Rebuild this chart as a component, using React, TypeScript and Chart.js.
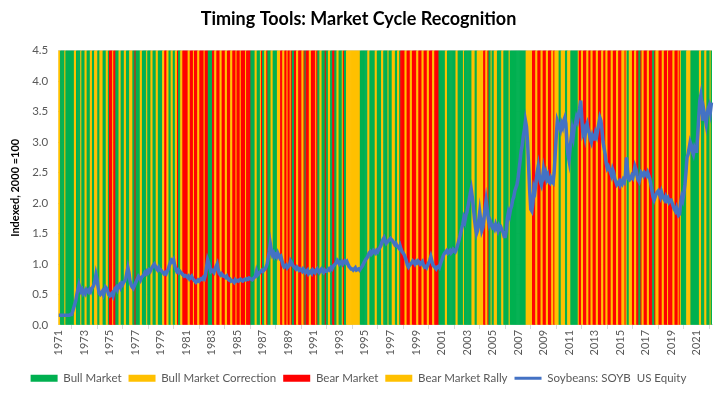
import React, { useEffect, useRef } from "react";
import { Chart, registerables } from "chart.js";

Chart.register(...registerables);

const startYear = 1971;

// Regime per month, one string per year. G = Bull Market, C = Bull Market Correction,
// R = Bear Market, Y = Bear Market Rally
const regimeByYear: string[] = [
  "CCGGGGCGGGGG", // 1971
  "GGGCCGGGGCGG", // 1972
  "GCCGGGCCGGCC", // 1973
  "CGGCCCGGGCCG", // 1974
  "RRRYRRGGGCCG", // 1975
  "GGCCGGGCCCGG", // 1976
  "RGGGGCCGGGGC", // 1977
  "GGGCCGGGCCGG", // 1978
  "GGCCRRCCGGCC", // 1979
  "GGCCRGGCCRRR", // 1980
  "RRYYRRRYRRRY", // 1981
  "YRRRRYRRRGGG", // 1982
  "GRRYYRRRYYRR", // 1983
  "RYYRRRYYRRRY", // 1984
  "RRRYRRRRYRRR", // 1985
  "RGGGGCCGGGCR", // 1986
  "GGCCRGGGCCGG", // 1987
  "GGCCCRRYYRRC", // 1988
  "RRYRGGRRYYRR", // 1989
  "RYYRGRRRYYRR", // 1990
  "RRYRGGCCGGGR", // 1991
  "GGCCGGRRGGCC", // 1992
  "GGGCRGGCCCCC", // 1993
  "CCCCCCCCGGGG", // 1994
  "GGGCCGGGGGCC", // 1995
  "GGGGCCGGGGCG", // 1996
  "GGCCCGGCCGRR", // 1997
  "RRYYRRRYYRRR", // 1998
  "RYYRRRYYRRRY", // 1999
  "YRRRYYRRRRGG", // 2000
  "GGGGCCGGGGGG", // 2001
  "GGCCGGGGGCGG", // 2002
  "GGGGGCCCGGCC", // 2003
  "CCCCRRYYRGGC", // 2004
  "GGCCCGGGGCCG", // 2005
  "GGGGCGGGGGGG", // 2006
  "GGGGGGGGCCCC", // 2007
  "CCRRRYYRRRYY", // 2008
  "RRRYYRRRYYRC", // 2009
  "CCCGGCCCCGGC", // 2010
  "CCGGGGGGGCRR", // 2011
  "YYRRRYYRRYYR", // 2012
  "RRYYRRRYYRRY", // 2013
  "YRRRYYRRRYYR", // 2014
  "RRYYYRCGGCCC", // 2015
  "RRYYRRGGRYYR", // 2016
  "RRYYRRRGGRYY", // 2017
  "YRRRYYRRRYRR", // 2018
  "RRYYRRRYRCGG", // 2019
  "GGGCCCCGGGGG", // 2020
  "GGGCCGGGCCGG", // 2021
  "GCG",          // 2022
];

// Soybeans: SOYB US Equity, indexed (2000 = 1.0), monthly
const soyByYear: number[][] = [
  [0.16, 0.16, 0.16, 0.16, 0.16, 0.16, 0.16, 0.16, 0.16, 0.16, 0.16, 0.17], // 1971
  [0.17, 0.22, 0.28, 0.34, 0.40, 0.50, 0.58, 0.66, 0.60, 0.55, 0.58, 0.52], // 1972
  [0.55, 0.52, 0.58, 0.56, 0.54, 0.58, 0.55, 0.60, 0.62, 0.66, 0.72, 0.83], // 1973
  [0.75, 0.62, 0.52, 0.50, 0.52, 0.55, 0.50, 0.56, 0.62, 0.60, 0.55, 0.50], // 1974
  [0.48, 0.50, 0.52, 0.48, 0.55, 0.60, 0.62, 0.58, 0.64, 0.66, 0.62, 0.68], // 1975
  [0.66, 0.70, 0.72, 0.76, 0.85, 0.94, 0.86, 0.72, 0.66, 0.62, 0.60, 0.64], // 1976
  [0.68, 0.72, 0.76, 0.80, 0.78, 0.74, 0.78, 0.80, 0.82, 0.86, 0.84, 0.88], // 1977
  [0.86, 0.90, 0.88, 0.92, 0.95, 0.98, 1.00, 0.96, 0.92, 0.90, 0.94, 0.90], // 1978
  [0.90, 0.88, 0.86, 0.84, 0.86, 0.84, 0.88, 0.92, 0.98, 1.02, 1.06, 1.04], // 1979
  [1.07, 0.98, 0.92, 0.88, 0.90, 0.86, 0.88, 0.86, 0.84, 0.82, 0.80, 0.81], // 1980
  [0.80, 0.78, 0.80, 0.76, 0.78, 0.80, 0.76, 0.74, 0.72, 0.70, 0.72, 0.74], // 1981
  [0.72, 0.74, 0.76, 0.75, 0.78, 0.76, 0.82, 0.95, 1.07, 1.02, 0.94, 0.88], // 1982
  [0.90, 0.88, 0.86, 0.92, 0.96, 1.00, 0.90, 0.84, 0.82, 0.84, 0.82, 0.80], // 1983
  [0.80, 0.78, 0.80, 0.76, 0.74, 0.75, 0.72, 0.73, 0.72, 0.70, 0.74, 0.72], // 1984
  [0.73, 0.72, 0.74, 0.75, 0.73, 0.72, 0.74, 0.75, 0.74, 0.76, 0.75, 0.77], // 1985
  [0.76, 0.75, 0.74, 0.76, 0.78, 0.80, 0.88, 0.82, 0.84, 0.86, 0.88, 0.90], // 1986
  [0.88, 0.90, 0.92, 0.95, 1.00, 1.10, 1.20, 1.33, 1.22, 1.15, 1.18, 1.12], // 1987
  [1.15, 1.12, 1.18, 1.14, 1.10, 1.12, 1.05, 0.98, 0.95, 0.96, 0.98, 0.94], // 1988
  [0.96, 0.98, 1.05, 1.02, 0.98, 0.96, 0.94, 0.92, 0.95, 0.93, 0.90, 0.92], // 1989
  [0.90, 0.88, 0.92, 0.90, 0.86, 0.88, 0.90, 0.84, 0.86, 0.88, 0.85, 0.90], // 1990
  [0.88, 0.86, 0.90, 0.92, 0.88, 0.86, 0.90, 0.92, 0.88, 0.86, 0.90, 0.88], // 1991
  [0.88, 0.90, 0.92, 0.90, 0.94, 0.92, 0.96, 0.98, 1.00, 1.02, 1.06, 1.04], // 1992
  [1.00, 1.02, 1.04, 1.00, 1.03, 1.05, 1.02, 1.04, 1.00, 0.96, 0.94, 0.92], // 1993
  [0.92, 0.90, 0.92, 0.94, 0.90, 0.91, 0.92, 0.90, 0.93, 0.95, 0.98, 1.02], // 1994
  [1.05, 1.08, 1.10, 1.14, 1.18, 1.20, 1.16, 1.18, 1.22, 1.20, 1.18, 1.22], // 1995
  [1.20, 1.24, 1.27, 1.30, 1.36, 1.40, 1.43, 1.38, 1.34, 1.36, 1.38, 1.40], // 1996
  [1.42, 1.40, 1.38, 1.35, 1.32, 1.34, 1.30, 1.28, 1.26, 1.30, 1.24, 1.20], // 1997
  [1.18, 1.15, 1.10, 1.05, 0.98, 0.95, 0.98, 1.00, 1.02, 1.05, 1.03, 1.00], // 1998
  [1.04, 1.02, 1.05, 1.03, 1.00, 1.02, 1.04, 0.98, 0.95, 0.96, 0.94, 0.98], // 1999
  [1.02, 1.06, 1.12, 1.05, 0.98, 0.96, 0.94, 0.92, 0.95, 0.96, 0.94, 1.00], // 2000
  [1.05, 1.10, 1.15, 1.18, 1.20, 1.22, 1.18, 1.20, 1.22, 1.18, 1.20, 1.24], // 2001
  [1.22, 1.20, 1.24, 1.30, 1.36, 1.43, 1.50, 1.58, 1.65, 1.75, 1.70, 1.80], // 2002
  [1.85, 1.95, 2.05, 2.15, 2.23, 2.10, 1.93, 1.75, 1.60, 1.50, 1.55, 1.70], // 2003
  [1.85, 1.70, 1.55, 1.60, 1.75, 1.90, 2.04, 1.90, 1.75, 1.65, 1.70, 1.65], // 2004
  [1.60, 1.62, 1.58, 1.65, 1.60, 1.55, 1.62, 1.58, 1.60, 1.55, 1.52, 1.45], // 2005
  [1.45, 1.55, 1.75, 1.85, 1.80, 1.90, 1.95, 2.05, 2.10, 2.20, 2.25, 2.30], // 2006
  [2.40, 2.55, 2.70, 2.86, 2.95, 3.10, 3.20, 3.35, 3.25, 3.00, 2.60, 2.20], // 2007
  [1.90, 1.87, 2.00, 2.25, 2.20, 2.35, 2.50, 2.60, 2.45, 2.35, 2.30, 2.40], // 2008
  [2.55, 2.45, 2.50, 2.40, 2.45, 2.35, 2.33, 2.40, 2.35, 2.33, 2.50, 2.80], // 2009
  [3.10, 3.35, 3.30, 3.25, 3.20, 3.30, 3.25, 3.35, 3.40, 3.30, 3.00, 2.80], // 2010
  [2.70, 2.90, 3.05, 3.20, 3.10, 3.25, 3.30, 3.40, 3.35, 3.45, 3.55, 3.68], // 2011
  [3.40, 3.15, 3.20, 3.10, 3.25, 3.30, 3.20, 3.15, 3.05, 3.00, 3.10, 3.05], // 2012
  [3.05, 3.15, 3.10, 3.20, 3.30, 3.40, 3.35, 3.20, 3.00, 2.90, 2.80, 2.65], // 2013
  [2.57, 2.60, 2.55, 2.50, 2.45, 2.55, 2.50, 2.40, 2.35, 2.30, 2.32, 2.35], // 2014
  [2.30, 2.35, 2.32, 2.38, 2.35, 2.45, 2.75, 2.55, 2.40, 2.38, 2.40, 2.45], // 2015
  [2.42, 2.50, 2.60, 2.55, 2.45, 2.38, 2.35, 2.42, 2.50, 2.48, 2.45, 2.50], // 2016
  [2.48, 2.45, 2.50, 2.45, 2.40, 2.30, 2.20, 2.10, 2.05, 2.10, 2.15, 2.18], // 2017
  [2.20, 2.15, 2.10, 2.18, 2.12, 2.08, 2.05, 2.10, 2.05, 2.08, 2.02, 2.05], // 2018
  [2.05, 2.00, 1.95, 1.90, 1.87, 1.92, 1.85, 1.80, 1.82, 2.00, 2.10, 2.05], // 2019
  [2.15, 2.30, 2.50, 2.75, 2.80, 2.90, 3.00, 2.95, 2.85, 2.80, 2.90, 2.85], // 2020
  [2.85, 3.10, 3.40, 3.68, 3.77, 3.60, 3.35, 3.50, 3.40, 3.30, 3.45, 3.55], // 2021
  [3.60, 3.50, 3.65],                                                       // 2022
];

const yTicks = [0, 0.5, 1, 1.5, 2, 2.5, 3, 3.5, 4, 4.5];

const seriesNames = ["Bull Market", "Bull Market Correction", "Bear Market", "Bear Market Rally"];
const seriesCodes = ["G", "C", "R", "Y"];
const seriesColors = ["#00B050", "#FFC000", "#FF0000", "#FFC000"];
const lineName = "Soybeans: SOYB  US Equity";
const lineColor = "#4472C4";

export default function App() {
  const canvasRef = useRef<HTMLCanvasElement | null>(null);

  useEffect(() => {
    const labels: string[] = [];
    const regimes: string[] = [];
    const soy: number[] = [];
    regimeByYear.forEach((s, yi) => {
      const year = startYear + yi;
      for (let m = 0; m < s.length; m++) {
        labels.push(`${year}-${String(m + 1).padStart(2, "0")}`);
        regimes.push(s[m]);
        soy.push(soyByYear[yi][m]);
      }
    });
    const top = yTicks[yTicks.length - 1];

    const font = "Lato";
    const chart = new Chart(canvasRef.current as HTMLCanvasElement, {
      type: "bar",
      data: {
        labels,
        datasets: [
          {
            type: "bar" as const,
            label: "Market Cycle",
            data: regimes.map(() => top),
            backgroundColor: regimes.map((r) => seriesColors[seriesCodes.indexOf(r)]),
            borderWidth: 0,
            barPercentage: 1,
            categoryPercentage: 1,
            order: 2,
          },
          {
            type: "line" as const,
            label: lineName,
            data: soy,
            borderColor: lineColor,
            backgroundColor: lineColor,
            borderWidth: 3.5,
            pointRadius: 0,
            tension: 0,
            order: 0,
          } as any,
        ],
      },
      options: {
        animation: false,
        responsive: false,
        maintainAspectRatio: false,
        layout: { padding: { left: 5, right: 10, top: 2, bottom: 0 } },
        plugins: {
          tooltip: { enabled: false },
          title: {
            display: true,
            text: "Timing Tools: Market Cycle Recognition",
            color: "#000000",
            font: { family: font, size: 18, weight: "bold" },
            padding: { top: 6, bottom: 21 },
          },
          legend: {
            position: "bottom",
            labels: {
              color: "#595959",
              font: { family: font, size: 11.5 },
              usePointStyle: true,
              pointStyleWidth: 27,
              boxHeight: 7,
              padding: 7,
              generateLabels: () => {
                const items: any[] = seriesNames.map((name, i) => ({
                  text: name,
                  fillStyle: seriesColors[i],
                  strokeStyle: seriesColors[i],
                  lineWidth: 0,
                  pointStyle: "rect",
                  hidden: false,
                  datasetIndex: 0,
                  fontColor: "#595959",
                }));
                items.push({
                  text: lineName,
                  fillStyle: lineColor,
                  strokeStyle: lineColor,
                  lineWidth: 3,
                  pointStyle: "line",
                  hidden: false,
                  datasetIndex: 1,
                  fontColor: "#595959",
                });
                return items;
              },
            },
          },
        },
        scales: {
          x: {
            offset: true,
            afterFit: (axis: any) => {
              axis.height += 9;
            },
            grid: { display: true, drawOnChartArea: false, tickLength: 4, color: "#D9D9D9" },
            border: { display: true, color: "#D9D9D9" },
            ticks: {
              autoSkip: false,
              minRotation: 90,
              maxRotation: 90,
              color: "#595959",
              font: { family: font, size: 11 },
              padding: 1,
              callback: (_v: any, idx: number) => {
                const lab = labels[idx];
                const y = parseInt(lab.slice(0, 4), 10);
                const m = lab.slice(5);
                return m === "01" && (y - startYear) % 2 === 0 ? String(y) : null;
              },
            },
          },
          y: {
            min: 0,
            max: top,
            afterBuildTicks: (axis: any) => {
              axis.ticks = yTicks.map((v) => ({ value: v }));
            },
            grid: { color: "#D9D9D9", drawTicks: false },
            border: { display: false },
            title: {
              display: true,
              text: "Indexed, 2000 =100",
              color: "#000000",
              font: { family: font, size: 11, weight: "bold" },
              padding: { bottom: 0 },
            },
            ticks: {
              color: "#595959",
              font: { family: font, size: 11.5 },
              padding: 10,
              callback: (v: any) => Number(v).toFixed(1),
            },
          },
        },
      },
    });
    return () => chart.destroy();
  }, []);

  return (
    <div style={{ position: "absolute", left: 0, top: 0, width: 722, height: 394, background: "#fff" }}>
      <canvas ref={canvasRef} width={722} height={394} style={{ display: "block" }} />
    </div>
  );
}
